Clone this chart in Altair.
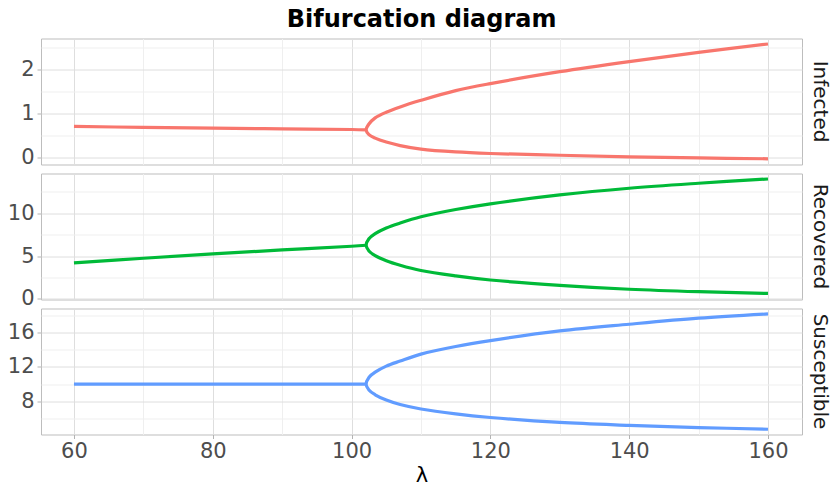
import altair as alt
import pandas as pd

FONT = "DejaVu Sans"

# Equilibrium branch, stable below the Hopf point
lam_eq = [60, 70, 80, 90, 100, 102.1]
infected_eq = [0.705, 0.685, 0.665, 0.65, 0.636, 0.627]
recovered_eq = [4.22, 4.76, 5.27, 5.73, 6.16, 6.28]
susceptible_eq = [10.0, 10.0, 10.0, 10.0, 10.0, 10.0]

# Extrema of the limit cycle past the Hopf point (first entry is the bifurcation point)
lam_cyc = [102.1, 102.5, 103.4, 105, 107, 110, 115, 120, 130, 140, 150, 160]
infected_max = [0.627, 0.76, 0.90, 1.03, 1.15, 1.30, 1.52, 1.68, 1.95, 2.18, 2.39, 2.58]
infected_min = [0.627, 0.52, 0.44, 0.35, 0.27, 0.19, 0.125, 0.09, 0.05, 0.015, -0.01, -0.03]
recovered_max = [6.28, 7.03, 7.63, 8.29, 8.87, 9.6, 10.45, 11.12, 12.16, 12.94, 13.52, 14.02]
recovered_min = [6.28, 5.61, 5.07, 4.48, 3.95, 3.33, 2.7, 2.22, 1.6, 1.14, 0.85, 0.65]
susceptible_max = [10.0, 10.78, 11.4, 12.1, 12.69, 13.5, 14.38, 15.07, 16.19, 16.97, 17.67, 18.17]
susceptible_min = [10.0, 9.32, 8.77, 8.16, 7.64, 7.12, 6.55, 6.13, 5.55, 5.22, 4.96, 4.76]

variables = ["Infected", "Recovered", "Susceptible"]
colors = ["#F8766D", "#00BA38", "#619CFF"]
eq_values = [infected_eq, recovered_eq, susceptible_eq]
max_values = [infected_max, recovered_max, susceptible_max]
min_values = [infected_min, recovered_min, susceptible_min]

# y scale domains and breaks per panel
y_domains = [[-0.16, 2.705], [-0.06, 14.66], [4.15, 18.8]]
y_breaks = [[0, 0.5, 1, 1.5, 2, 2.5], [0, 2.5, 5, 7.5, 10, 12.5], [6, 8, 10, 12, 14, 16, 18]]
y_major_step = [1, 5, 4]

x_domain = [55.25, 164.9]
x_breaks = [60, 70, 80, 90, 100, 110, 120, 130, 140, 150, 160]

rows = []
for name, eq, mx, mn in zip(variables, eq_values, max_values, min_values):
    for i, (l, v) in enumerate(zip(lam_eq, eq)):
        rows.append({"variable": name, "branch": "equilibrium", "lam": l, "value": v, "ord": i})
    # one path: minimum branch back to the bifurcation point, then out along the maximum
    k = 0
    for l, v in reversed(list(zip(lam_cyc, mn))):
        rows.append({"variable": name, "branch": "cycle", "lam": l, "value": v, "ord": k})
        k += 1
    for l, v in list(zip(lam_cyc, mx))[1:]:
        rows.append({"variable": name, "branch": "cycle", "lam": l, "value": v, "ord": k})
        k += 1
df = pd.DataFrame(rows)

W, H = 761, 126
GRID_MAJOR = "#DEDEDE"
GRID_MINOR = "#EFEFEF"
TICK = "#B3B3B3"


def x_axis(show):
    test = "datum.value % 20 !== 0"
    common = dict(
        values=x_breaks,
        domain=False,
        gridColor={"condition": {"test": test, "value": GRID_MINOR}, "value": GRID_MAJOR},
        gridWidth=1,
    )
    if show:
        return alt.Axis(
            title="λ",
            labelExpr=f"{test} ? '' : format(datum.value, '~g')",
            tickOpacity={"condition": {"test": test, "value": 0}, "value": 1},
            tickColor=TICK,
            tickSize=4,
            labelFontSize=21,
            labelColor="#4D4D4D",
            labelPadding=2,
            labelFont=FONT,
            titleFont=FONT,
            titleFontSize=21,
            titleFontWeight="normal",
            titleColor="#000000",
            titlePadding=3,
            **common,
        )
    return alt.Axis(title=None, labels=False, ticks=False, minExtent=0, maxExtent=0,
                    **common)


def y_axis(values, step):
    test = f"datum.value % {step} !== 0"
    return alt.Axis(
        title=None,
        values=values,
        domain=False,
        labelExpr=f"{test} ? '' : format(datum.value, '~g')",
        gridColor={"condition": {"test": test, "value": GRID_MINOR}, "value": GRID_MAJOR},
        gridWidth=1,
        tickOpacity={"condition": {"test": test, "value": 0}, "value": 1},
        tickColor=TICK,
        tickSize=4,
        labelFontSize=21,
        labelColor="#4D4D4D",
        labelPadding=3,
        labelFont=FONT,
    )


panels = []
for idx, (name, color) in enumerate(zip(variables, colors)):
    sub = df[df["variable"] == name]
    lines = alt.Chart(sub).mark_line(
        strokeWidth=3.2, interpolate="catmull-rom", color=color
    ).encode(
        x=alt.X("lam:Q", scale=alt.Scale(domain=x_domain, nice=False, zero=False),
                axis=x_axis(idx == len(variables) - 1)),
        y=alt.Y("value:Q", scale=alt.Scale(domain=y_domains[idx], nice=False, zero=False),
                axis=y_axis(y_breaks[idx], y_major_step[idx])),
        detail="branch:N",
        order="ord:Q",
    )
    strip = alt.Chart(pd.DataFrame({"strip": [name]})).mark_text(
        angle=90, fontSize=20, font=FONT, color="#1A1A1A", align="center", baseline="middle"
    ).encode(text="strip:N", x=alt.value(W + 18), y=alt.value(H / 2))
    panels.append(alt.layer(lines, strip).properties(width=W, height=H))

chart = alt.vconcat(*panels, spacing=9, bounds="flush").properties(
    title=alt.TitleParams(
        "Bifurcation diagram", font=FONT, fontSize=24, fontWeight="bold",
        color="#000000", anchor="middle", offset=5, dx=3,
    ),
    padding={"left": 6, "top": 7.5, "right": 2, "bottom": 0},
    background="white",
).configure_view(stroke="#BDBDBD", strokeWidth=1)

chart.save("out.html", embed_options={"renderer": "svg", "actions": False})
